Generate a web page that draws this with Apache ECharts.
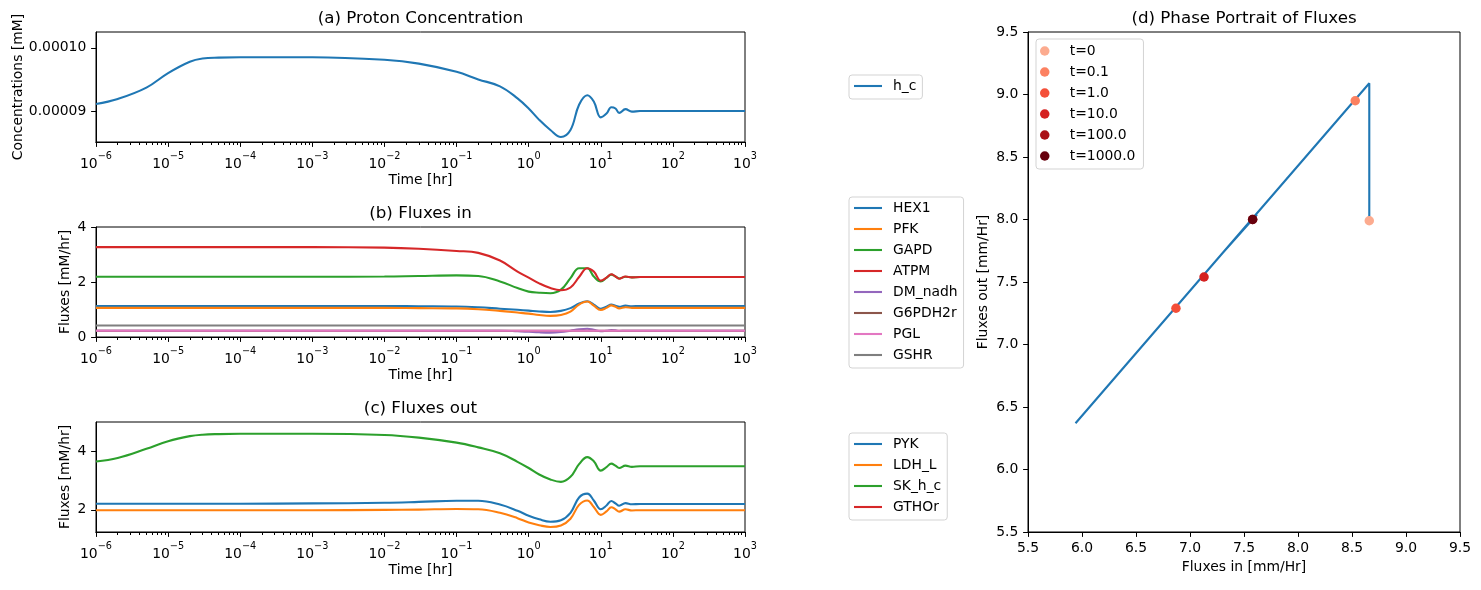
<!DOCTYPE html>
<html>
<head>
<meta charset="utf-8">
<script src="https://cdn.jsdelivr.net/npm/echarts@6/dist/echarts.min.js"></script>
<style>
html, body { margin: 0; padding: 0; background: #fff; }
#chart { width: 1481px; height: 590px; }
</style>
</head>
<body>
<div id="chart"></div>
<script>
// time points [hr]
var times = [1e-6, 2e-6, 5e-6, 1e-5, 2e-5, 3e-5, 5e-5, 1e-4, 1e-3, 1e-2, 3e-2, 0.1, 0.2, 0.4, 0.7,
  1, 1.4, 2, 2.8, 3.8, 5, 6.5, 8, 10, 12, 14, 16, 18, 22, 27, 35, 100, 1000];

// (a) proton concentration [mM]
var hC = [9.11e-5, 9.19e-5, 9.37e-5, 9.60e-5, 9.78e-5, 9.83e-5, 9.845e-5, 9.85e-5, 9.85e-5, 9.81e-5, 9.75e-5, 9.62e-5, 9.50e-5, 9.39e-5, 9.20e-5,
  9.04e-5, 8.86e-5, 8.70e-5, 8.59e-5, 8.70e-5, 9.10e-5, 9.25e-5, 9.15e-5, 8.90e-5, 8.96e-5, 9.06e-5, 9.04e-5, 8.97e-5, 9.03e-5, 8.99e-5, 9.0e-5, 9.0e-5, 9.0e-5];

// (b) fluxes in [mM/hr]
var hex1 = [1.13, 1.13, 1.13, 1.13, 1.13, 1.13, 1.13, 1.13, 1.13, 1.13, 1.12, 1.11, 1.08, 1.03, 0.99,
  0.96, 0.93, 0.91, 0.95, 1.05, 1.22, 1.30, 1.18, 1.03, 1.10, 1.18, 1.14, 1.10, 1.14, 1.12, 1.13, 1.13, 1.13];
var pfk = [1.06, 1.06, 1.06, 1.06, 1.06, 1.06, 1.06, 1.06, 1.06, 1.06, 1.05, 1.04, 1.01, 0.95, 0.89,
  0.85, 0.80, 0.77, 0.80, 0.92, 1.18, 1.29, 1.14, 0.98, 1.06, 1.15, 1.10, 1.04, 1.08, 1.06, 1.06, 1.06, 1.06];
var gapd = [2.19, 2.19, 2.19, 2.19, 2.19, 2.19, 2.19, 2.19, 2.19, 2.20, 2.22, 2.24, 2.22, 2.02, 1.78,
  1.65, 1.61, 1.59, 1.72, 2.14, 2.50, 2.50, 2.20, 2.02, 2.15, 2.27, 2.20, 2.13, 2.19, 2.17, 2.18, 2.18, 2.18];
var atpm = [3.27, 3.27, 3.27, 3.27, 3.27, 3.27, 3.27, 3.27, 3.27, 3.25, 3.21, 3.13, 3.06, 2.78, 2.38,
  2.16, 1.95, 1.78, 1.70, 1.80, 2.18, 2.50, 2.38, 2.05, 2.16, 2.28, 2.20, 2.12, 2.20, 2.17, 2.18, 2.18, 2.18];
var dmNadh = [0.23, 0.23, 0.23, 0.23, 0.23, 0.23, 0.23, 0.23, 0.23, 0.23, 0.23, 0.23, 0.23, 0.23, 0.21,
  0.19, 0.17, 0.16, 0.18, 0.23, 0.28, 0.30, 0.26, 0.21, 0.23, 0.25, 0.24, 0.22, 0.23, 0.23, 0.23, 0.23, 0.23];
var g6pdh2r = [0.23, 0.23, 0.23, 0.23, 0.23, 0.23, 0.23, 0.23, 0.23, 0.23, 0.23, 0.23, 0.23, 0.23, 0.23,
  0.23, 0.23, 0.23, 0.23, 0.23, 0.23, 0.23, 0.23, 0.23, 0.23, 0.23, 0.23, 0.23, 0.23, 0.23, 0.23, 0.23, 0.23];
var pgl = [0.23, 0.23, 0.23, 0.23, 0.23, 0.23, 0.23, 0.23, 0.23, 0.23, 0.23, 0.23, 0.23, 0.23, 0.23,
  0.23, 0.23, 0.23, 0.23, 0.23, 0.23, 0.23, 0.23, 0.23, 0.23, 0.23, 0.23, 0.23, 0.23, 0.23, 0.23, 0.23, 0.23];
var gshr = [0.42, 0.42, 0.42, 0.42, 0.42, 0.42, 0.42, 0.42, 0.42, 0.42, 0.42, 0.42, 0.42, 0.42, 0.42,
  0.42, 0.42, 0.42, 0.42, 0.42, 0.42, 0.42, 0.42, 0.42, 0.42, 0.42, 0.42, 0.42, 0.42, 0.42, 0.42, 0.42, 0.42];

// (c) fluxes out [mM/hr]
var pyk = [2.21, 2.21, 2.21, 2.21, 2.21, 2.21, 2.21, 2.21, 2.22, 2.24, 2.27, 2.31, 2.31, 2.18, 1.97,
  1.80, 1.68, 1.60, 1.65, 1.90, 2.42, 2.55, 2.32, 2.02, 2.15, 2.30, 2.22, 2.14, 2.23, 2.19, 2.20, 2.20, 2.20];
var ldhL = [1.99, 1.99, 1.99, 1.99, 1.99, 1.99, 1.99, 1.99, 1.99, 2.00, 2.01, 2.03, 2.02, 1.90, 1.72,
  1.57, 1.48, 1.42, 1.47, 1.70, 2.17, 2.32, 2.10, 1.83, 1.95, 2.09, 2.02, 1.94, 2.02, 1.98, 1.99, 1.99, 1.99];
var skHc = [3.64, 3.76, 4.07, 4.33, 4.50, 4.55, 4.57, 4.58, 4.58, 4.54, 4.45, 4.28, 4.12, 3.92, 3.63,
  3.42, 3.20, 3.03, 2.95, 3.12, 3.55, 3.79, 3.65, 3.33, 3.45, 3.57, 3.50, 3.42, 3.50, 3.46, 3.48, 3.48, 3.48];
var gthor = [];

// (d) phase portrait
var phaseIn = [8.66, 8.66, 5.94, 7.90, 7.30, 7.62, 7.58];
var phaseOut = [7.99, 9.09, 6.37, 8.33, 7.73, 8.04, 8.00];
var markerNames = ['t=0', 't=0.1', 't=1.0', 't=10.0', 't=100.0', 't=1000.0'];
var markerIn = [8.66, 8.53, 6.87, 7.13, 7.58, 7.58];
var markerOut = [7.99, 8.95, 7.29, 7.54, 8.00, 8.00];
var markerColors = ['#fcab8f', '#fc8161', '#f44f39', '#d52221', '#aa1016', '#67000d'];

var decades = [1e-6, 1e-5, 1e-4, 1e-3, 1e-2, 1e-1, 1, 10, 100, 1000];
var phaseTicks = [5.5, 6.0, 6.5, 7.0, 7.5, 8.0, 8.5, 9.0, 9.5];

var tab10 = ['#1f77b4', '#ff7f0e', '#2ca02c', '#d62728', '#9467bd', '#8c564b', '#e377c2', '#7f7f7f'];
var FONT = 'DejaVu Sans';

var minorTicks = [];
decades.slice(0, -1).forEach(function (d) {
  for (var k = 2; k < 10; k++) minorTicks.push(d * k);
});

var chart = echarts.init(document.getElementById('chart'));

var lbl = { color: '#000', fontFamily: FONT, fontSize: 13.9 };
var tops = [32, 227, 422];

function grid(top, show) {
  return { left: 96, top: top, width: 649, height: 110, show: show, borderColor: '#000', borderWidth: 1, backgroundColor: 'transparent' };
}

function logAxis(gi) {
  return {
    type: 'log', logBase: 10, gridIndex: gi, min: 1e-6, max: 1e3, position: 'bottom',
    name: 'Time [hr]', nameLocation: 'middle', nameGap: 31,
    nameTextStyle: lbl,
    axisLine: { show: true, lineStyle: { color: '#000', width: 1 } },
    axisTick: { customValues: decades, length: 4.9, lineStyle: { color: '#000' } },
    axisLabel: {
      customValues: decades, margin: 9, color: '#000',
      formatter: function (v) {
        var e = Math.round(Math.log10(v));
        return '{b|10}{s|' + (e < 0 ? '\u2212' : '') + Math.abs(e) + '}';
      },
      rich: {
        b: { fontFamily: FONT, fontSize: 13.9, color: '#000', lineHeight: 20, verticalAlign: 'bottom' },
        s: { fontFamily: FONT, fontSize: 9.7, color: '#000', lineHeight: 12, verticalAlign: 'top' }
      }
    },
    splitLine: { show: false }
  };
}

// minor ticks live on an overlay grid of their own
function minorAxis(gi) {
  return {
    type: 'log', logBase: 10, gridIndex: gi, min: 1e-6, max: 1e3, position: 'bottom',
    axisLine: { show: true, lineStyle: { color: '#000', width: 1 } },
    axisTick: { customValues: minorTicks, length: 3, lineStyle: { color: '#000', width: 1 } },
    axisLabel: { show: false },
    splitLine: { show: false }
  };
}

function dummyY(gi) {
  return { type: 'value', gridIndex: gi, min: 0, max: 1, show: false, splitLine: { show: false } };
}

function valAxis(gi, min, max, ticks, digits, name, gap) {
  return {
    type: 'value', gridIndex: gi, min: min, max: max,
    name: name, nameLocation: 'middle', nameGap: gap, nameTextStyle: lbl,
    axisLine: { show: true, lineStyle: { color: '#000', width: 1 } },
    axisTick: { customValues: ticks, length: 4.9, lineStyle: { color: '#000' } },
    axisLabel: Object.assign({ customValues: ticks, margin: 9.7, formatter: function (v) { return v.toFixed(digits); } }, lbl),
    splitLine: { show: false }
  };
}

function line(name, arr, color, xi, yi) {
  return {
    type: 'line', name: name, xAxisIndex: xi, yAxisIndex: yi,
    data: arr.map(function (v, i) { return [times[i], v]; }),
    symbol: 'none', smooth: 0.4,
    lineStyle: { width: 2.1, color: color }, itemStyle: { color: color },
    silent: true
  };
}

var legendBase = {
  orient: 'vertical', selectedMode: false,
  backgroundColor: '#fff', borderColor: '#d3d3d3', borderWidth: 1, borderRadius: 3,
  padding: [4, 6, 6, 5], itemWidth: 28, itemHeight: 14, itemGap: 7,
  icon: 'path://M0,0H28V2.1H0Z',
  textStyle: { color: '#000', fontFamily: FONT, fontSize: 13.9, lineHeight: 14, padding: [0, 0, 0, 6] }
};

var series = [
  line('h_c', hC, tab10[0], 0, 0),
  line('HEX1', hex1, tab10[0], 1, 1),
  line('PFK', pfk, tab10[1], 1, 1),
  line('GAPD', gapd, tab10[2], 1, 1),
  line('ATPM', atpm, tab10[3], 1, 1),
  line('DM_nadh', dmNadh, tab10[4], 1, 1),
  line('G6PDH2r', g6pdh2r, tab10[5], 1, 1),
  line('PGL', pgl, tab10[6], 1, 1),
  line('GSHR', gshr, tab10[7], 1, 1),
  line('PYK', pyk, tab10[0], 2, 2),
  line('LDH_L', ldhL, tab10[1], 2, 2),
  line('SK_h_c', skHc, tab10[2], 2, 2),
  line('GTHOr', gthor, tab10[3], 2, 2),
  {
    type: 'line', name: 'phase', xAxisIndex: 3, yAxisIndex: 3,
    data: phaseIn.map(function (v, i) { return [v, phaseOut[i]]; }),
    symbol: 'none', lineStyle: { width: 2.1, color: tab10[0] }, silent: true, z: 2
  }
];
markerNames.forEach(function (n, i) {
  series.push({
    type: 'scatter', name: n, xAxisIndex: 3, yAxisIndex: 3,
    data: [[markerIn[i], markerOut[i]]], symbolSize: 9.5,
    itemStyle: { color: markerColors[i], opacity: 1 }, silent: true, z: 3
  });
});

var titleStyle = { color: '#000', fontFamily: FONT, fontSize: 16.7, fontWeight: 'normal' };

chart.setOption({
  animation: false,
  textStyle: { fontFamily: FONT },
  title: [
    { text: '(a) Proton Concentration', left: 420.5, top: 10, textAlign: 'center', textStyle: titleStyle, padding: 0 },
    { text: '(b) Fluxes in', left: 420.5, top: 205, textAlign: 'center', textStyle: titleStyle, padding: 0 },
    { text: '(c) Fluxes out', left: 420.5, top: 400, textAlign: 'center', textStyle: titleStyle, padding: 0 },
    { text: '(d) Phase Portrait of Fluxes', left: 1244, top: 10, textAlign: 'center', textStyle: titleStyle, padding: 0 }
  ],
  grid: [grid(tops[0], true), grid(tops[1], true), grid(tops[2], true),
    { left: 1028, top: 32, width: 432, height: 500, show: true, borderColor: '#000', borderWidth: 1 },
    grid(tops[0], false), grid(tops[1], false), grid(tops[2], false)],
  xAxis: [
    logAxis(0), logAxis(1), logAxis(2),
    valAxis(3, 5.5, 9.5, phaseTicks, 1, 'Fluxes in [mm/Hr]', 28),
    minorAxis(4), minorAxis(5), minorAxis(6)
  ],
  yAxis: [
    valAxis(0, 8.51e-5, 1.025e-4, [9e-5, 1e-4], 5, 'Concentrations [mM]', 64),
    valAxis(1, 0, 4, [0, 2, 4], 0, 'Fluxes [mM/hr]', 24),
    valAxis(2, 1.25, 4.98, [2, 4], 0, 'Fluxes [mM/hr]', 24),
    valAxis(3, 5.5, 9.5, phaseTicks, 1, 'Fluxes out [mm/Hr]', 38),
    dummyY(4), dummyY(5), dummyY(6)
  ],
  legend: [
    Object.assign({}, legendBase, { data: ['h_c'], left: 849, top: 75 }),
    Object.assign({}, legendBase, { data: ['HEX1', 'PFK', 'GAPD', 'ATPM', 'DM_nadh', 'G6PDH2r', 'PGL', 'GSHR'], left: 849, top: 197 }),
    Object.assign({}, legendBase, { data: ['PYK', 'LDH_L', 'SK_h_c', 'GTHOr'], left: 849, top: 433 }),
    Object.assign({}, legendBase, {
      data: markerNames, left: 1036, top: 39, icon: 'circle', itemHeight: 9.5, itemGap: 7,
      padding: [5, 8, 6, 4]
    })
  ],
  series: series
});
</script>
</body>
</html>
